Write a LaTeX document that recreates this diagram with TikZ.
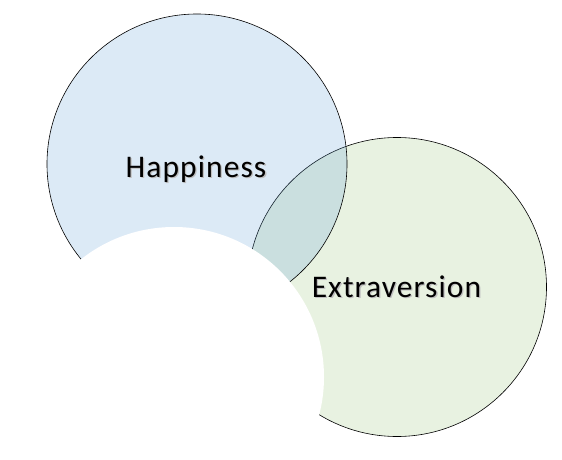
\documentclass[tikz,border=0pt]{standalone}
\usepackage{fontspec}
\setmainfont{Carlito}[LetterSpace=3.5]
\usepackage{tikz}
\usetikzlibrary{positioning}
\definecolor{happyblue}{RGB}{91,155,213}
\definecolor{extragreen}{RGB}{112,173,71}
\newcommand{\shadowed}[1]{\rlap{\hspace{1.3pt}\raisebox{-1.3pt}{\textcolor{black!25}{#1}}}#1}

\begin{document}
\begin{tikzpicture}[x=1pt, y=-1pt,
		set/.style={circle, inner sep=0pt, minimum size=300pt, line width=0.6pt},
		setname/.style={inner sep=0pt, anchor=base, font=\fontsize{31.5}{38}\selectfont}]
			\useasboundingbox (0,0) rectangle (562,460);
			
			\node[set, draw, fill=extragreen, fill opacity=0.16, minimum size=299pt] (extra) at (397,287) {};
			\node[set, draw, fill=happyblue, fill opacity=0.21] (happy) at (197,164) {};
			\node[set, fill=white] (blank) at (174,377) {};
			
			\node[setname] (happylabel) at (196,177.5) {\shadowed{Happiness}};
			\node[setname] (extralabel) at (396.5,297.5) {\shadowed{Extraversion}};
			
		\end{tikzpicture}
\end{document}
